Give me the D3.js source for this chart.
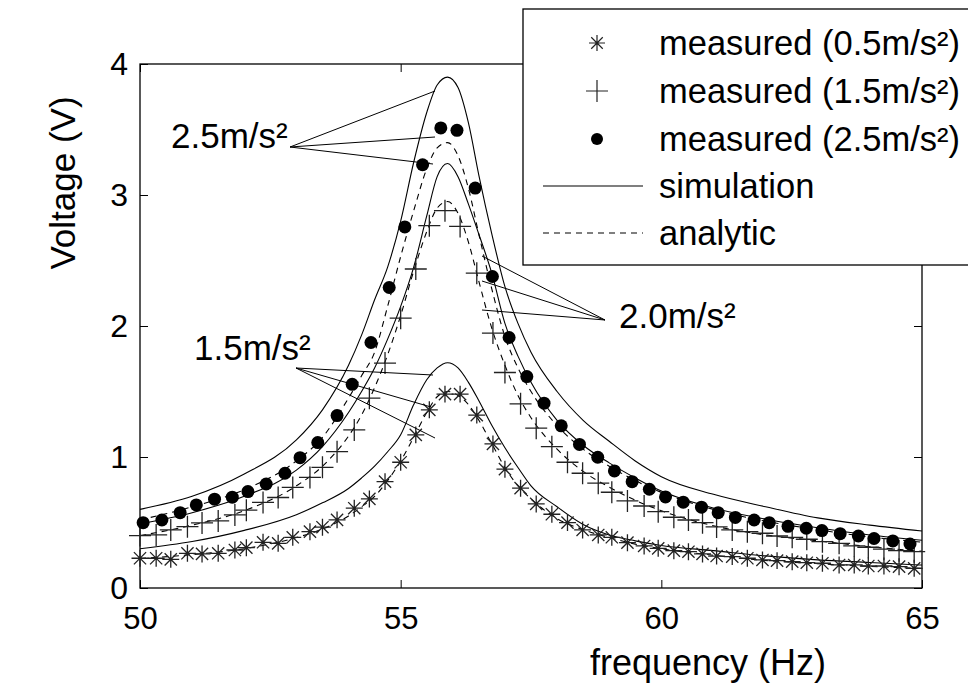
<!DOCTYPE html>
<html>
<head>
<meta charset="UTF-8" />
<script src="https://d3js.org/d3.v7.min.js"></script>
<style>
  body { margin: 0; background: #fff; }
  svg text { font-family: "Liberation Sans", Arial, sans-serif; fill: #000; }
</style>
</head>
<body>
<svg width="968" height="694"></svg>
<script>
// measured points (0.5 and 1.5 share the same frequency steps)
const fineFreq = [50.00, 50.31, 50.59, 50.91, 51.19, 51.50, 51.82, 52.04, 52.36, 52.65, 52.93, 53.26, 53.50,
  53.78, 54.11, 54.40, 54.70, 55.00, 55.29, 55.55, 55.85, 56.14, 56.46, 56.77, 57.00, 57.30, 57.60, 57.90,
  58.20, 58.49, 58.79, 59.05, 59.35, 59.67, 59.94, 60.24, 60.52, 60.79, 61.06, 61.36, 61.65, 61.94, 62.22,
  62.51, 62.79, 63.09, 63.41, 63.70, 63.97, 64.27, 64.56, 64.85];
const meas05 = [0.227, 0.227, 0.219, 0.265, 0.26, 0.265, 0.29, 0.308, 0.349, 0.341, 0.387, 0.43, 0.464,
  0.52, 0.609, 0.68, 0.812, 0.96, 1.169, 1.36, 1.48, 1.48, 1.32, 1.10, 0.907, 0.762, 0.642, 0.563,
  0.499, 0.443, 0.405, 0.387, 0.346, 0.321, 0.303, 0.285, 0.277, 0.26, 0.244, 0.24, 0.227, 0.214, 0.209,
  0.201, 0.193, 0.189, 0.176, 0.176, 0.168, 0.168, 0.163, 0.15];
const meas15 = [0.40, 0.405, 0.443, 0.468, 0.497, 0.512, 0.558, 0.594, 0.653, 0.691, 0.768, 0.844, 0.921,
  1.041, 1.207, 1.449, 1.717, 2.06, 2.435, 2.766, 2.88, 2.76, 2.403, 1.946, 1.645, 1.406, 1.22, 1.079,
  0.96, 0.876, 0.80, 0.731, 0.665, 0.626, 0.583, 0.54, 0.519, 0.499, 0.466, 0.443, 0.43, 0.418, 0.397,
  0.387, 0.372, 0.354, 0.341, 0.321, 0.311, 0.296, 0.285, 0.277];
const dotFreq = [50.06, 50.42, 50.77, 51.08, 51.43, 51.77, 52.07, 52.42, 52.78, 53.07, 53.41, 53.78, 54.07,
  54.43, 54.78, 55.08, 55.42, 55.77, 56.08, 56.43, 56.76, 57.08, 57.42, 57.75, 58.08, 58.43, 58.78, 59.10,
  59.44, 59.77, 60.08, 60.42, 60.77, 61.09, 61.42, 61.78, 62.07, 62.43, 62.78, 63.08, 63.43, 63.78, 64.08,
  64.44, 64.77];
const meas25 = [0.499, 0.519, 0.575, 0.634, 0.678, 0.693, 0.736, 0.794, 0.876, 0.995, 1.11, 1.316, 1.555,
  1.874, 2.294, 2.756, 3.231, 3.512, 3.494, 3.053, 2.378, 1.912, 1.614, 1.411, 1.238, 1.096, 0.998, 0.894,
  0.812, 0.754, 0.695, 0.655, 0.617, 0.575, 0.539, 0.519, 0.499, 0.471, 0.456, 0.438, 0.415, 0.397, 0.378,
  0.359, 0.336];

// simulation / analytic curves
const curveFreq = [50, 51, 52, 53, 53.5, 54, 54.25, 54.5, 54.75, 55, 55.25, 55.5, 55.7, 55.9, 56.1, 56.3,
  56.5, 56.75, 57, 57.25, 57.5, 58, 58.5, 59, 59.5, 60, 61, 62, 63, 64, 65];
const sim25 = [0.60, 0.70, 0.87, 1.13, 1.36, 1.70, 1.93, 2.20, 2.45, 2.80, 3.25, 3.63, 3.84, 3.90, 3.82, 3.55,
  3.15, 2.70, 2.30, 2.02, 1.80, 1.50, 1.28, 1.12, 0.97, 0.85, 0.715, 0.62, 0.535, 0.48, 0.435];
const ana25 = [0.52, 0.62, 0.75, 0.97, 1.15, 1.45, 1.62, 1.80, 2.15, 2.53, 2.88, 3.20, 3.36, 3.40, 3.30, 3.05,
  2.70, 2.28, 1.92, 1.68, 1.50, 1.24, 1.06, 0.93, 0.82, 0.73, 0.60, 0.51, 0.445, 0.39, 0.35];
const sim20 = [0.49, 0.575, 0.70, 0.90, 1.08, 1.34, 1.50, 1.68, 1.90, 2.15, 2.45, 2.84, 3.14, 3.24, 3.14, 2.93,
  2.70, 2.40, 2.02, 1.77, 1.57, 1.28, 1.09, 0.955, 0.84, 0.74, 0.61, 0.525, 0.46, 0.405, 0.365];
const ana20 = [0.40, 0.48, 0.59, 0.78, 0.93, 1.16, 1.32, 1.53, 1.78, 2.08, 2.42, 2.72, 2.90, 2.95, 2.86, 2.64,
  2.34, 1.98, 1.70, 1.47, 1.30, 1.06, 0.89, 0.77, 0.67, 0.59, 0.475, 0.405, 0.36, 0.315, 0.28];
const sim15 = [0.30, 0.355, 0.44, 0.56, 0.65, 0.76, 0.84, 0.93, 1.04, 1.17, 1.40, 1.59, 1.68, 1.72, 1.68, 1.57,
  1.43, 1.24, 1.07, 0.92, 0.78, 0.62, 0.485, 0.405, 0.36, 0.325, 0.285, 0.245, 0.215, 0.195, 0.175];
const ana15 = [0.225, 0.255, 0.30, 0.385, 0.45, 0.55, 0.62, 0.70, 0.82, 0.97, 1.15, 1.34, 1.46, 1.50, 1.47, 1.40,
  1.28, 1.10, 0.92, 0.78, 0.68, 0.53, 0.445, 0.385, 0.335, 0.30, 0.25, 0.21, 0.185, 0.165, 0.15];

const xTicks = [50, 55, 60, 65];
const yTicks = [0, 1, 2, 3, 4];
const legendLabels = ["measured (0.5m/s\u00b2)", "measured (1.5m/s\u00b2)", "measured (2.5m/s\u00b2)", "simulation", "analytic"];

const svg = d3.select("svg");
const x = d3.scaleLinear().domain([50, 65]).range([140, 922]);
const y = d3.scaleLinear().domain([0, 4]).range([588, 64]);

// custom marker shapes
const asterisk = {
  draw(ctx, size) {
    const r = Math.sqrt(size), d = r * 0.72;
    ctx.moveTo(-r, 0); ctx.lineTo(r, 0);
    ctx.moveTo(0, -r); ctx.lineTo(0, r);
    ctx.moveTo(-d, -d); ctx.lineTo(d, d);
    ctx.moveTo(-d, d); ctx.lineTo(d, -d);
  }
};
const plus = {
  draw(ctx, size) {
    const r = Math.sqrt(size);
    ctx.moveTo(-r, 0); ctx.lineTo(r, 0);
    ctx.moveTo(0, -r); ctx.lineTo(0, r);
  }
};

// frame + ticks
svg.append("g").attr("transform", "translate(0,588)")
  .call(d3.axisBottom(x).tickValues(xTicks).tickSizeInner(-8).tickSizeOuter(0).tickPadding(19))
  .call(g => g.select(".domain").remove())
  .call(g => g.selectAll("text").attr("font-size", 31));
svg.append("g").attr("transform", "translate(0,64)")
  .call(d3.axisTop(x).tickValues(xTicks).tickSizeInner(-8).tickSizeOuter(0).tickFormat(""))
  .call(g => g.select(".domain").remove());
svg.append("g").attr("transform", "translate(140,0)")
  .call(d3.axisLeft(y).tickValues(yTicks).tickFormat(d3.format("d")).tickSizeInner(-8).tickSizeOuter(0).tickPadding(12))
  .call(g => g.select(".domain").remove())
  .call(g => g.selectAll("text").attr("font-size", 32));
svg.append("g").attr("transform", "translate(922,0)")
  .call(d3.axisRight(y).tickValues(yTicks).tickSizeInner(-8).tickSizeOuter(0).tickFormat(""))
  .call(g => g.select(".domain").remove());
svg.selectAll(".tick line").attr("stroke", "#000");
svg.append("rect").attr("x", 140).attr("y", 64).attr("width", 782).attr("height", 524)
  .attr("fill", "none").attr("stroke", "#000").attr("stroke-width", 1.3);

// curves
const line = d3.line().x(d => x(d[0])).y(d => y(d[1])).curve(d3.curveMonotoneX);
const curves = [
  { v: sim25, dash: null }, { v: sim20, dash: null }, { v: sim15, dash: null },
  { v: ana25, dash: "6,5" }, { v: ana20, dash: "6,5" }, { v: ana15, dash: "6,5" }
];
const plot = svg.append("g");
curves.forEach(c => {
  plot.append("path")
    .datum(curveFreq.map((f, i) => [f, c.v[i]]))
    .attr("d", line)
    .attr("fill", "none")
    .attr("stroke", "#000")
    .attr("stroke-width", 1.1)
    .attr("stroke-dasharray", c.dash);
});

// measured markers
plot.selectAll(".m05").data(fineFreq.map((f, i) => [f, meas05[i]])).join("path")
  .attr("class", "m05")
  .attr("transform", d => `translate(${x(d[0])},${y(d[1])})`)
  .attr("d", d3.symbol(asterisk, 72))
  .attr("fill", "none").attr("stroke", "#222").attr("stroke-width", 1.3);
plot.selectAll(".m15").data(fineFreq.map((f, i) => [f, meas15[i]])).join("path")
  .attr("class", "m15")
  .attr("transform", d => `translate(${x(d[0])},${y(d[1])})`)
  .attr("d", d3.symbol(plus, 121))
  .attr("fill", "none").attr("stroke", "#222").attr("stroke-width", 1.3);
plot.selectAll(".m25").data(dotFreq.map((f, i) => [f, meas25[i]])).join("circle")
  .attr("class", "m25")
  .attr("cx", d => x(d[0])).attr("cy", d => y(d[1])).attr("r", 6.5)
  .attr("fill", "#000");

// annotations with leader lines
const notes = [
  { text: "2.5m/s\u00b2", tx: 171, ty: 148, from: [290, 147], to: [[435, 91], [435, 137], [433, 164]] },
  { text: "2.0m/s\u00b2", tx: 619, ty: 328, from: [605, 320], to: [[482, 256], [482, 281], [482, 310]] },
  { text: "1.5m/s\u00b2", tx: 194, ty: 360, from: [296, 368], to: [[433, 375], [431, 407], [435, 438]] }
];
notes.forEach(n => {
  svg.append("text").attr("x", n.tx).attr("y", n.ty).attr("font-size", 35).text(n.text);
  n.to.forEach(p => {
    svg.append("line").attr("x1", n.from[0]).attr("y1", n.from[1]).attr("x2", p[0]).attr("y2", p[1])
      .attr("stroke", "#000").attr("stroke-width", 1);
  });
});

// axis titles
svg.append("text").attr("x", 708).attr("y", 675).attr("text-anchor", "middle")
  .attr("font-size", 36).text("frequency (Hz)");
svg.append("text").attr("transform", "translate(75,183) rotate(-90)").attr("text-anchor", "middle")
  .attr("font-size", 35).text("Voltage (V)");

// legend
const lg = svg.append("g");
lg.append("rect").attr("x", 523).attr("y", 9).attr("width", 460).attr("height", 256)
  .attr("fill", "#fff").attr("stroke", "#000").attr("stroke-width", 1.3);
const rowY = [43, 91, 139, 186, 233];
legendLabels.forEach((t, i) => {
  lg.append("text").attr("x", 659).attr("y", rowY[i]).attr("dy", "0.35em")
    .attr("font-size", 34.5).text(t);
});
lg.append("path").attr("transform", `translate(597,${rowY[0]})`).attr("d", d3.symbol(asterisk, 64))
  .attr("fill", "none").attr("stroke", "#222").attr("stroke-width", 1.2);
lg.append("path").attr("transform", `translate(597,${rowY[1]})`).attr("d", d3.symbol(plus, 121))
  .attr("fill", "none").attr("stroke", "#222").attr("stroke-width", 1.2);
lg.append("circle").attr("cx", 597).attr("cy", rowY[2]).attr("r", 6).attr("fill", "#000");
lg.append("line").attr("x1", 543).attr("x2", 643).attr("y1", rowY[3]).attr("y2", rowY[3])
  .attr("stroke", "#000").attr("stroke-width", 1.1);
lg.append("line").attr("x1", 543).attr("x2", 643).attr("y1", rowY[4]).attr("y2", rowY[4])
  .attr("stroke", "#000").attr("stroke-width", 1.1).attr("stroke-dasharray", "6,5");
</script>
</body>
</html>
